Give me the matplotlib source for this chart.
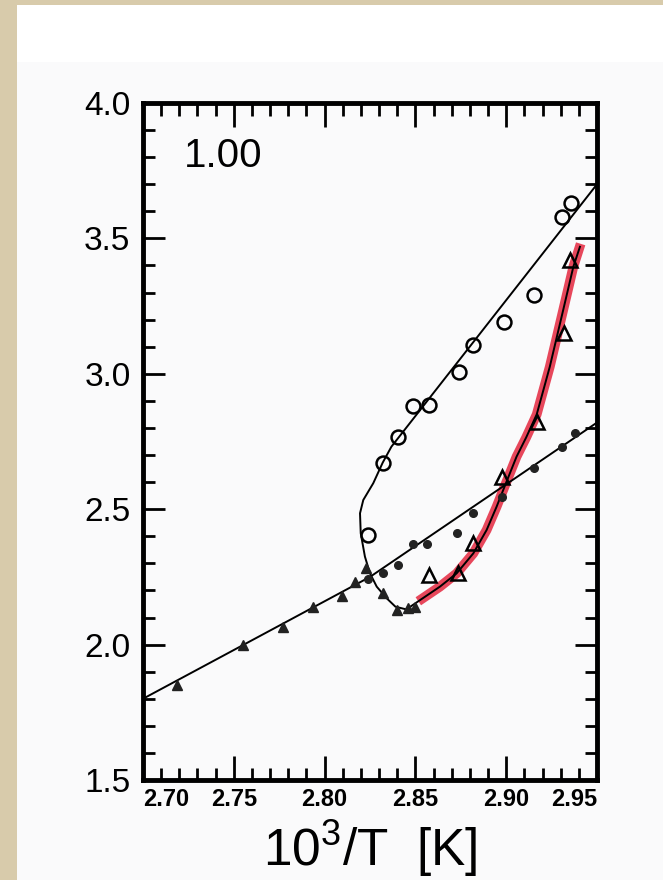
import matplotlib
matplotlib.use("Agg")
import matplotlib.pyplot as plt
from matplotlib.patches import Rectangle
from matplotlib.ticker import MultipleLocator

plt.rcParams["font.family"] = ["Liberation Sans", "DejaVu Sans"]
plt.rcParams["mathtext.fontset"] = "custom"
plt.rcParams["mathtext.rm"] = "Liberation Sans"
plt.rcParams["mathtext.it"] = "Liberation Sans"

# straight (Arrhenius) fit through the filled symbols
fit_x = [2.70, 2.825, 2.95]
fit_y = [1.80, 2.25, 2.82]

# curve through open circles, down to the minimum and up the triangles
loop_x = [2.950, 2.8368, 2.832, 2.8268, 2.8213, 2.8195, 2.8199, 2.8222, 2.825,
          2.8287, 2.8342, 2.839, 2.845, 2.8516, 2.8635, 2.8727, 2.8819, 2.8892,
          2.8947, 2.9002, 2.9057, 2.9110, 2.9168, 2.9240, 2.9314, 2.9370, 2.9406]
loop_y = [3.700, 2.731, 2.672, 2.596, 2.534, 2.485, 2.411, 2.325, 2.263,
          2.214, 2.171, 2.140, 2.130, 2.160, 2.214, 2.263, 2.337, 2.423,
          2.509, 2.602, 2.694, 2.765, 2.850, 3.026, 3.236, 3.396, 3.469]

# red highlight on the rising branch
red_x = [2.8516, 2.8635, 2.8727, 2.8819, 2.8892, 2.8947, 2.9002, 2.9057,
         2.9110, 2.9168, 2.9240, 2.9314, 2.9370, 2.9410]
red_y = [2.160, 2.214, 2.263, 2.337, 2.423, 2.509, 2.602, 2.694,
         2.765, 2.850, 3.026, 3.236, 3.396, 3.480]

# symbols
tri_low_x = [2.7186, 2.7552, 2.7773, 2.7938, 2.8094, 2.8167, 2.8230]
tri_low_y = [1.851, 1.999, 2.064, 2.140, 2.180, 2.232, 2.282]

tri_min_x = [2.8323, 2.8397, 2.8460, 2.8497]
tri_min_y = [2.189, 2.128, 2.134, 2.140]

dot_x = [2.8240, 2.8323, 2.8406, 2.8485, 2.8566, 2.8730, 2.8816, 2.8978,
         2.9155, 2.9310, 2.9379]
dot_y = [2.241, 2.263, 2.294, 2.371, 2.371, 2.411, 2.487, 2.546,
         2.651, 2.731, 2.780]

circ_x = [2.8240, 2.8320, 2.8406, 2.8488, 2.8575, 2.8742, 2.8819, 2.8988,
          2.9155, 2.9309, 2.9355]
circ_y = [2.405, 2.672, 2.768, 2.881, 2.885, 3.008, 3.106, 3.191,
          3.290, 3.580, 3.632]

otri_x = [2.8573, 2.8736, 2.8815, 2.8975, 2.9168, 2.9320, 2.9350]
otri_y = [2.257, 2.263, 2.374, 2.618, 2.823, 3.149, 3.420]

xticks = [2.70, 2.75, 2.80, 2.85, 2.90, 2.95]
yticks = [1.5, 2.0, 2.5, 3.0, 3.5, 4.0]

fig = plt.figure(figsize=(6.63, 8.80), dpi=100, facecolor="#fafafb")
# scanned page look: white band at the top, beige paper edges
fig.patches.append(Rectangle((0, 0.93), 1, 0.07, transform=fig.transFigure,
                             facecolor="white", edgecolor="none", zorder=0))
fig.patches.append(Rectangle((0, 0), 17 / 663, 1, transform=fig.transFigure,
                             facecolor="#d8cbab", edgecolor="none", zorder=1))
fig.patches.append(Rectangle((0, 1 - 5 / 880), 1, 5 / 880, transform=fig.transFigure,
                             facecolor="#d8cbab", edgecolor="none", zorder=1))

ax = fig.add_axes([143 / 663, 100 / 880, 454 / 663, 677 / 880])
ax.set_facecolor("none")

ax.plot(red_x, red_y, color="#e5334a", lw=7, alpha=0.9, solid_capstyle="butt", zorder=2)
ax.plot(fit_x, fit_y, color="black", lw=1.4, zorder=3)
ax.plot(loop_x, loop_y, color="black", lw=1.4, zorder=3)

ax.plot(tri_low_x, tri_low_y, ls="none", marker="^", ms=6.5, color="#222", zorder=4)
ax.plot(tri_min_x, tri_min_y, ls="none", marker="^", ms=7, color="#222", zorder=4)
ax.plot(dot_x, dot_y, ls="none", marker="o", ms=5.5, color="#222", zorder=4)
ax.plot(circ_x, circ_y, ls="none", marker="o", ms=10, mfc="none", mec="black",
        mew=1.8, zorder=4)
ax.plot(otri_x, otri_y, ls="none", marker="^", ms=10, mfc="none", mec="black",
        mew=1.8, zorder=4)

ax.set_xlim(2.70, 2.95)
ax.set_ylim(1.5, 4.0)
ax.set_xticks(xticks)
ax.set_yticks(yticks)
ax.xaxis.set_minor_locator(MultipleLocator(0.01))
ax.yaxis.set_minor_locator(MultipleLocator(0.1))
ax.set_xticklabels([f"{v:.2f}" for v in xticks], fontsize=17, fontweight="bold")
ax.set_yticklabels([f"{v:.1f}" for v in yticks], fontsize=24)
labs = ax.get_xticklabels()
labs[0].set_ha("left")
labs[-1].set_ha("right")

for s in ax.spines.values():
    s.set_linewidth(3.5)
ax.tick_params(which="both", direction="in", top=True, right=True, width=2)
ax.tick_params(axis="x", which="major", length=17, pad=6)
ax.tick_params(axis="x", which="minor", length=9)
ax.tick_params(axis="y", which="major", length=16, pad=9)
ax.tick_params(axis="y", which="minor", length=8.5)

ax.set_xlabel(r"10$^{3}$/T  [K]", fontsize=37, labelpad=5)
ax.text(0.09, 0.905, "1.00", transform=ax.transAxes, fontsize=29)

fig.savefig("out.png", dpi=100, facecolor=fig.get_facecolor())
